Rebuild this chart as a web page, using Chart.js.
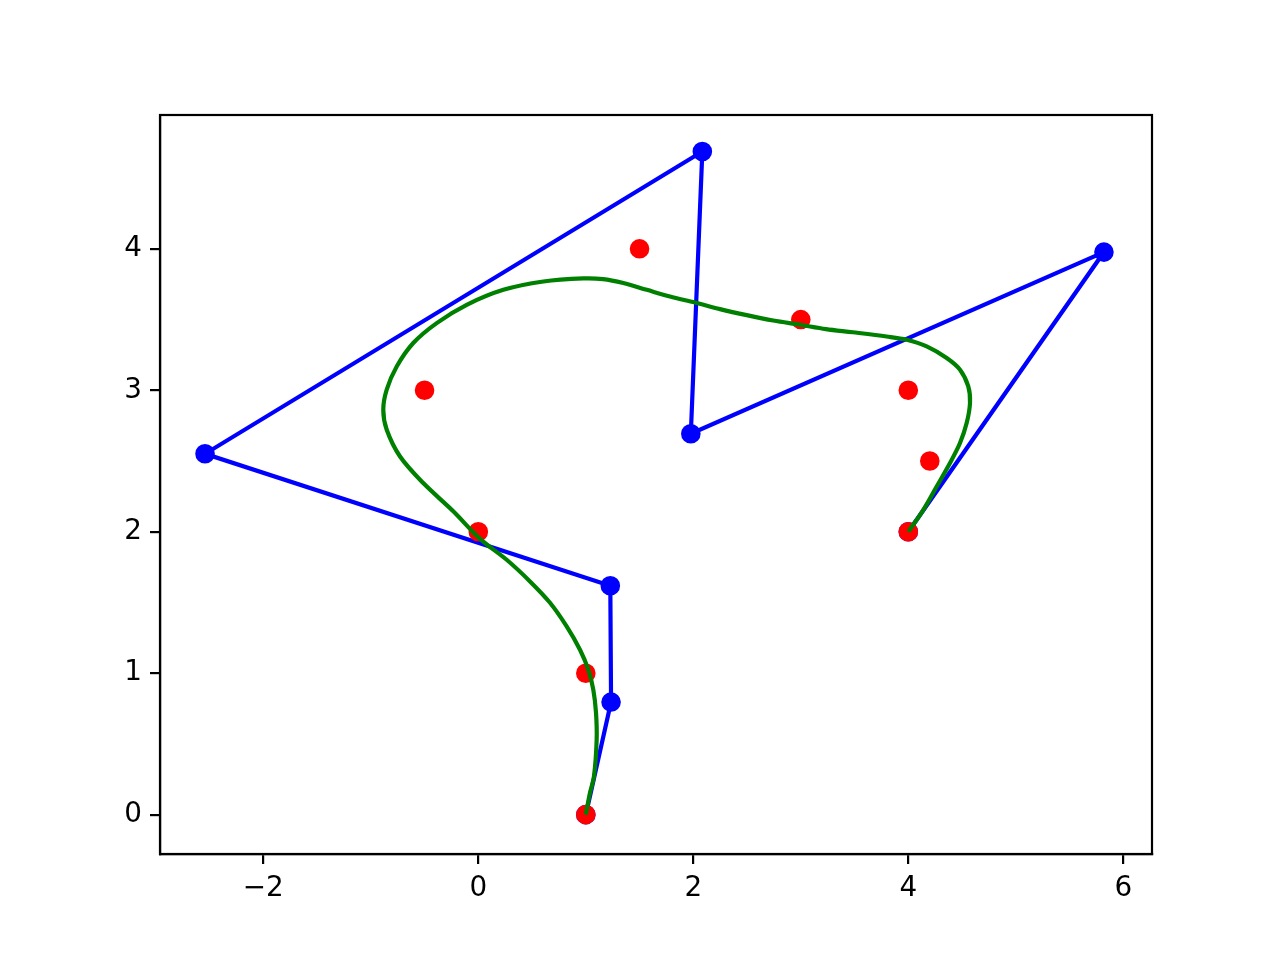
<!DOCTYPE html>
<html>
<head>
<meta charset="utf-8">
<script src="https://cdn.jsdelivr.net/npm/chart.js@4/dist/chart.umd.min.js"></script>
<style>
  html, body { margin: 0; padding: 0; background: #fff; }
  #wrap { width: 1280px; height: 960px; }
</style>
</head>
<body>
<div id="wrap"><canvas id="c" width="1280" height="960"></canvas></div>
<script>
// Tick labels
const xTicks = [-2, 0, 2, 4, 6];
const yTicks = [0, 1, 2, 3, 4];

// Red data points
const dataX = [1, 1, 0, -0.5, 1.5, 3, 4, 4.2, 4];
const dataY = [0, 1, 2, 3, 4, 3.5, 3, 2.5, 2];

// Blue control polygon
const ctrlX = [1, 1.235, 1.228, -2.542, 2.084, 1.977, 5.820, 4];
const ctrlY = [0, 0.796, 1.618, 2.551, 4.688, 2.693, 3.977, 2];

// Green curve
const curveX = [1.000, 1.039, 1.076, 1.101, 1.095, 1.070, 1.023, 0.946, 0.822, 0.667, 0.481, 0.264, 0.016,
  -0.233, -0.512, -0.728, -0.852, -0.884, -0.852, -0.759, -0.605, -0.387, -0.108, 0.233, 0.605, 0.977,
  1.160, 1.349, 1.567, 1.783, 2.016, 2.248, 2.497, 2.744, 2.993, 3.234, 3.484, 3.799, 3.985, 4.171, 4.357,
  4.481, 4.558, 4.574, 4.543, 4.481, 4.388, 4.264, 4.140, 4.000];
const curveY = [0.000, 0.155, 0.271, 0.530, 0.719, 0.883, 1.025, 1.166, 1.331, 1.498, 1.649, 1.802, 1.950,
  2.145, 2.344, 2.532, 2.721, 2.862, 3.004, 3.168, 3.334, 3.475, 3.604, 3.710, 3.769, 3.791,
  3.786, 3.758, 3.710, 3.663, 3.620, 3.574, 3.531, 3.493, 3.463, 3.432, 3.410, 3.380, 3.357, 3.310, 3.228,
  3.145, 3.027, 2.910, 2.768, 2.627, 2.486, 2.320, 2.155, 2.000];

const xMin = -2.961, xMax = 6.267;
const yMin = -0.278, yMax = 4.946;

const toPts = (xs, ys) => xs.map((x, i) => ({ x: x, y: ys[i] }));
const fmt = v => (v < 0 ? '\u2212' + Math.abs(v) : String(v));

const frame = {
  id: 'frame',
  afterDatasetsDraw(chart) {
    const a = chart.chartArea, ctx = chart.ctx;
    ctx.save();
    ctx.strokeStyle = '#000';
    ctx.lineWidth = 2.2;
    ctx.strokeRect(a.left, a.top, a.right - a.left, a.bottom - a.top);
    ctx.restore();
  }
};

const axisCommon = {
  type: 'linear',
  grid: { drawOnChartArea: false, drawTicks: true, tickLength: 10, tickWidth: 2.2, tickColor: '#000', color: '#000', lineWidth: 2.2 },
  border: { display: true, color: '#000', width: 2.2 },
  ticks: { color: '#000', font: { family: 'DejaVu Sans', size: 27.8 }, padding: 8, callback: v => fmt(v), maxRotation: 0, autoSkip: false }
};

new Chart(document.getElementById('c'), {
  type: 'scatter',
  data: {
    datasets: [
      { label: 'curve', data: toPts(curveX, curveY), showLine: true, borderColor: '#008000', borderWidth: 4.2,
        pointRadius: 0, tension: 0.33, order: 0 },
      { label: 'data', data: toPts(dataX, dataY), showLine: false,
        pointRadius: 8.4, pointBorderWidth: 2.8, pointBackgroundColor: '#ff0000', pointBorderColor: '#ff0000', order: 1 },
      { label: 'control', data: toPts(ctrlX, ctrlY), showLine: true, borderColor: '#0000ff', borderWidth: 4.2,
        pointRadius: 8.4, pointBorderWidth: 2.8, pointBackgroundColor: '#0000ff', pointBorderColor: '#0000ff', tension: 0, order: 2 }
    ]
  },
  options: {
    responsive: false,
    animation: false,
    devicePixelRatio: 1,
    events: [],
    layout: { padding: { left: 0, top: 115, right: 128, bottom: 0 } },
    plugins: { legend: { display: false }, tooltip: { enabled: false } },
    scales: {
      x: Object.assign({}, axisCommon, {
        min: xMin, max: xMax, position: 'bottom',
        afterBuildTicks: s => { s.ticks = xTicks.map(v => ({ value: v })); },
        afterFit: s => { s.height = 106; }
      }),
      y: Object.assign({}, axisCommon, {
        min: yMin, max: yMax, position: 'left',
        afterBuildTicks: s => { s.ticks = yTicks.map(v => ({ value: v })); },
        afterFit: s => { s.width = 160; }
      })
    }
  },
  plugins: [frame]
});
</script>
</body>
</html>
